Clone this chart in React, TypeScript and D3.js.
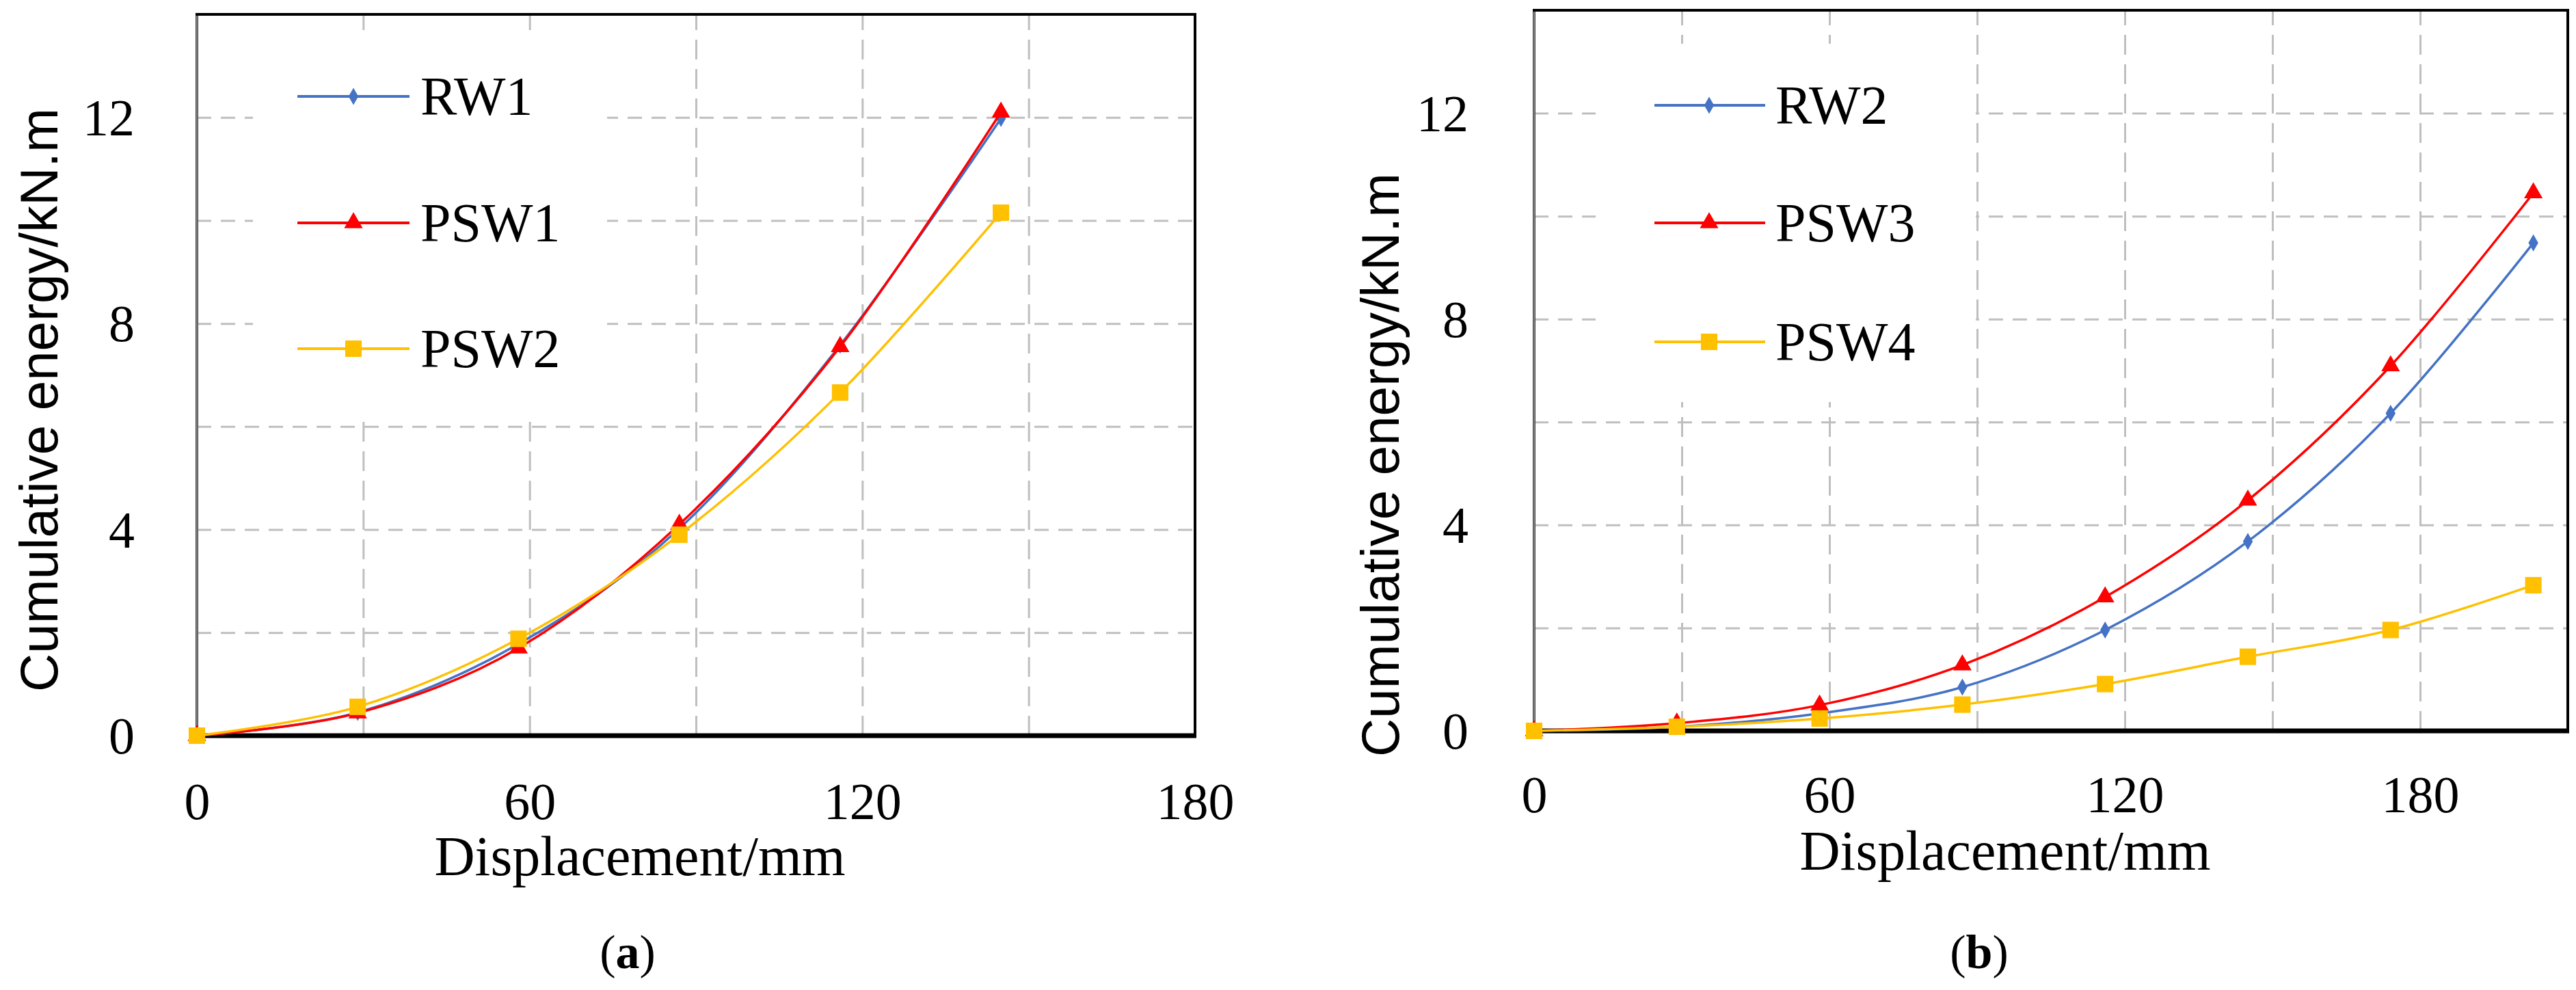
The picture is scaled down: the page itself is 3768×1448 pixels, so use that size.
import React, { useEffect, useRef } from 'react';
import {
  select, scaleLinear, line, curveCardinal, symbol,
  symbolDiamond, symbolTriangle, symbolSquare, axisLeft, axisBottom, range,
} from 'd3';

// panel (a)
const dispA = [0, 29, 58, 87, 116, 145];
const rw1 = [0, 0.45, 1.78, 4.02, 7.58, 11.98];
const psw1 = [0, 0.44, 1.70, 4.1, 7.55, 12.1];
const psw2 = [0, 0.56, 1.88, 3.9, 6.66, 10.15];
const namesA = ['RW1', 'PSW1', 'PSW2'];

// panel (b)
const dispB = [0, 29, 58, 87, 116, 145, 174, 203];
const rw2 = [0, 0.08, 0.34, 0.85, 1.96, 3.68, 6.17, 9.48];
const psw3 = [0, 0.15, 0.5, 1.28, 2.6, 4.48, 7.09, 10.45];
const psw4 = [0, 0.08, 0.24, 0.51, 0.91, 1.44, 1.96, 2.83];
const namesB = ['RW2', 'PSW3', 'PSW4'];

const xTickLabels = [0, 60, 120, 180];
const yTickLabels = [0, 4, 8, 12];
const yMax = 14;

const W = 3768;
const H = 1448;
const colors = ['#4472C4', '#FF0000', '#FFC000'];
const shapes = [symbolDiamond, symbolTriangle, symbolSquare];
const sizes = [180, 320, 580];
const gridColor = '#BFBFBF';
const serif = '"Liberation Serif", "Times New Roman", serif';
const sans = '"Liberation Sans", Arial, sans-serif';

const panels = [
  {
    disp: dispA, series: [rw1, psw1, psw2], names: namesA, xMax: 180,
    left: 288, right: 1748, top: 21, bottom: 1076,
    legBox: [370, 44, 888, 613], legLine: [435, 599], legMark: 517, legText: 615, legRows: [141, 326, 510],
    yTickX: 197, xTickY: 1198, yTitle: [84, 585], xTitle: [936, 1280], caption: [918, 1416, 'a'],
  },
  {
    disp: dispB, series: [rw2, psw3, psw4], names: namesB, xMax: 210,
    left: 2244, right: 3756, top: 15, bottom: 1069,
    legBox: [2334, 64, 2890, 588], legLine: [2420, 2582], legMark: 2500, legText: 2597, legRows: [154, 326, 500],
    yTickX: 2148, xTickY: 1188, yTitle: [2046, 680], xTitle: [2933, 1272], caption: [2895, 1416, 'b'],
  },
];

function drawPanel(svg: any, p: any) {
  const x = scaleLinear().domain([0, p.xMax]).range([p.left, p.right]);
  const y = scaleLinear().domain([0, yMax]).range([p.bottom, p.top]);
  const g = svg.append('g');

  // dashed grid
  const gx = g.append('g')
    .attr('transform', `translate(0,${p.bottom})`)
    .call(axisBottom(x).tickValues(range(30, p.xMax, 30)).tickSize(-(p.bottom - p.top)).tickFormat(() => ''));
  gx.select('.domain').remove();
  gx.selectAll('line').attr('stroke', gridColor).attr('stroke-width', 3).attr('stroke-dasharray', '29 14');

  const gy = g.append('g')
    .attr('transform', `translate(${p.left},0)`)
    .call(axisLeft(y).tickValues(range(2, yMax, 2)).tickSize(-(p.right - p.left)).tickFormat(() => ''));
  gy.select('.domain').remove();
  gy.selectAll('line').attr('stroke', gridColor).attr('stroke-width', 3).attr('stroke-dasharray', '21 14');

  // legend background
  const [bx0, by0, bx1, by1] = p.legBox;
  g.append('rect').attr('x', bx0).attr('y', by0).attr('width', bx1 - bx0).attr('height', by1 - by0).attr('fill', '#fff');

  // frame
  g.append('rect')
    .attr('x', p.left).attr('y', p.top)
    .attr('width', p.right - p.left).attr('height', p.bottom - p.top)
    .attr('fill', 'none').attr('stroke', '#000').attr('stroke-width', 4);
  g.append('line')
    .attr('x1', p.left).attr('x2', p.left).attr('y1', p.top + 2).attr('y2', p.bottom)
    .attr('stroke', '#868686').attr('stroke-width', 3);
  g.append('line')
    .attr('x1', p.left).attr('x2', p.right + 2).attr('y1', p.bottom).attr('y2', p.bottom)
    .attr('stroke', '#000').attr('stroke-width', 7);

  // series
  const lineGen = line().curve(curveCardinal);
  p.series.forEach((vals: number[], i: number) => {
    const pts = p.disp.map((d: number, j: number) => [x(d), y(vals[j])]);
    g.append('path')
      .attr('d', lineGen(pts))
      .attr('fill', 'none').attr('stroke', colors[i]).attr('stroke-width', 3.5);
    g.append('g').selectAll('path')
      .data(pts)
      .enter()
      .append('path')
      .attr('transform', (d: number[]) => `translate(${d[0]},${d[1]})`)
      .attr('d', symbol(shapes[i], sizes[i])())
      .attr('fill', colors[i]);
  });

  // legend
  p.names.forEach((name: string, i: number) => {
    const ry = p.legRows[i];
    g.append('line')
      .attr('x1', p.legLine[0]).attr('x2', p.legLine[1]).attr('y1', ry).attr('y2', ry)
      .attr('stroke', colors[i]).attr('stroke-width', 4);
    g.append('path')
      .attr('transform', `translate(${p.legMark},${ry})`)
      .attr('d', symbol(shapes[i], sizes[i])())
      .attr('fill', colors[i]);
    g.append('text')
      .attr('x', p.legText).attr('y', ry + 27)
      .attr('font-family', serif).attr('font-size', 80)
      .text(name);
  });

  // tick labels
  const ay = g.append('g')
    .attr('transform', `translate(${p.left},0)`)
    .call(axisLeft(y).tickValues(yTickLabels).tickSize(0).tickPadding(p.left - p.yTickX));
  ay.select('.domain').remove();
  ay.attr('font-family', serif).attr('font-size', 76);
  ay.selectAll('text').attr('fill', '#000').attr('dy', '0.34em');

  const ax = g.append('g')
    .attr('transform', `translate(0,${p.bottom})`)
    .call(axisBottom(x).tickValues(xTickLabels).tickSize(0));
  ax.select('.domain').remove();
  ax.attr('font-family', serif).attr('font-size', 76);
  ax.selectAll('text').attr('fill', '#000').attr('dy', null).attr('y', p.xTickY - p.bottom);

  // axis titles
  g.append('text')
    .attr('transform', `translate(${p.yTitle[0]},${p.yTitle[1]}) rotate(-90)`)
    .attr('text-anchor', 'middle')
    .attr('font-family', sans).attr('font-size', 78)
    .text('Cumulative energy/kN.m');
  g.append('text')
    .attr('x', p.xTitle[0]).attr('y', p.xTitle[1])
    .attr('text-anchor', 'middle')
    .attr('font-family', serif).attr('font-size', 82)
    .text('Displacement/mm');

  // caption
  const cap = g.append('text')
    .attr('x', p.caption[0]).attr('y', p.caption[1])
    .attr('text-anchor', 'middle')
    .attr('font-family', serif).attr('font-size', 70);
  cap.append('tspan').text('(');
  cap.append('tspan').attr('font-weight', 'bold').text(p.caption[2]);
  cap.append('tspan').text(')');
}

const App: React.FC = () => {
  const svgRef = useRef<SVGSVGElement | null>(null);

  useEffect(() => {
    const svg = select(svgRef.current);
    svg.selectAll('*').remove();
    svg.append('rect').attr('width', W).attr('height', H).attr('fill', '#fff');
    panels.forEach(p => drawPanel(svg, p));
  }, []);

  return (
    <div>
      <svg ref={svgRef} width={W} height={H} style={{ position: 'absolute', left: 0, top: 0 }} />
    </div>
  );
};

export default App;
